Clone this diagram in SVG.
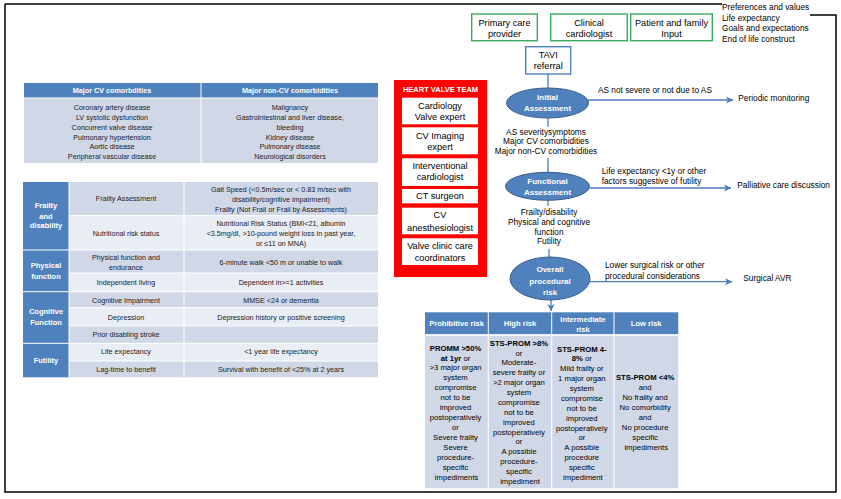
<svg xmlns="http://www.w3.org/2000/svg" width="841" height="499" viewBox="0 0 841 499">
<defs>
<marker id="arr" markerWidth="8" markerHeight="8" refX="7" refY="4" orient="auto" markerUnits="userSpaceOnUse">
<path d="M0,0.5 L7.5,4 L0,7.5 L2,4 Z" fill="#4A7EBB"/>
</marker>
<style>
text { font-family: "Liberation Sans", Arial, sans-serif; }
.t7 { font-size: 7.2px; text-anchor: middle; fill: #1a1a1a; }
.t7b { font-size: 7.2px; text-anchor: middle; font-weight: bold; fill: #fff; }
.cat { font-size: 7.5px; text-anchor: middle; font-weight: bold; fill: #fff; }
.hdr { fill: #4F81BD; }
.dk { fill: #D0D8E8; }
.lt { fill: #E9EDF4; }
.wl { stroke: #fff; stroke-width: 1; }
.team { font-size: 9.2px; text-anchor: middle; fill: #000; }
.wbox { fill: #fff; }
.gbox { fill: #fff; stroke: #3AAA5C; stroke-width: 1.4; }
.bbox { fill: #fff; stroke: #4F81BD; stroke-width: 1.4; }
.f9 { font-size: 9.2px; text-anchor: middle; fill: #000; }
.f8 { font-size: 8.3px; fill: #000; }
.f8c { font-size: 8.3px; fill: #000; text-anchor: middle; }
.ell { fill: #4F81BD; stroke: #385D8A; stroke-width: 1; }
.et { font-size: 8px; font-weight: bold; fill: #fff; text-anchor: middle; }
.con { stroke: #4A7EBB; stroke-width: 1.3; fill: none; }
.rt { font-size: 7.7px; text-anchor: middle; fill: #000; }
.rh { font-size: 7.6px; text-anchor: middle; font-weight: bold; fill: #fff; }
.b { font-weight: bold; }
</style>
</defs>
<rect width="841" height="499" fill="#fff"/>
<!-- outer frame -->
<path d="M5,4 H722 M810,15 H836 V492 H5 V4" fill="none" stroke="#000" stroke-width="1.5"/>

<!-- comorbidities table -->
<g id="comorbidities-table">
<rect x="24" y="83" width="354" height="15" class="hdr"/>
<rect x="24" y="98" width="354" height="65" class="dk"/>
<line x1="201" y1="83" x2="201" y2="163" class="wl"/>
<line x1="24" y1="98" x2="378" y2="98" class="wl"/>
<text x="112" y="93.3" class="t7b">Major CV comorbdities</text>
<text x="290" y="93.3" class="t7b">Major non-CV comorbidities</text>
<text class="t7" x="112"><tspan x="112" y="110.2">Coronary artery disease</tspan><tspan x="112" y="120">LV systolic dysfunction</tspan><tspan x="112" y="129.8">Concurrent valve disease</tspan><tspan x="112" y="139.6">Pulmonary hypertension</tspan><tspan x="112" y="149.4">Aortic disease</tspan><tspan x="112" y="159.2">Peripheral vascular disease</tspan></text>
<text class="t7" x="290"><tspan x="290" y="110.2">Malignancy</tspan><tspan x="290" y="120">Gastrointestinal and liver disease,</tspan><tspan x="290" y="129.8">bleeding</tspan><tspan x="290" y="139.6">Kidney disease</tspan><tspan x="290" y="149.4">Pulmonary disease</tspan><tspan x="290" y="159.2">Neurological disorders</tspan></text>
</g>

<!-- frailty table -->
<g id="frailty-table">
<rect x="69" y="182" width="309" height="33.7" class="dk"/>
<rect x="69" y="215.7" width="309" height="34.3" class="lt"/>
<rect x="69" y="250" width="309" height="23" class="dk"/>
<rect x="69" y="273" width="309" height="18.7" class="lt"/>
<rect x="69" y="291.7" width="309" height="16" class="dk"/>
<rect x="69" y="307.7" width="309" height="18.3" class="lt"/>
<rect x="69" y="326" width="309" height="17.3" class="dk"/>
<rect x="69" y="343.3" width="309" height="17.7" class="lt"/>
<rect x="69" y="361" width="309" height="16.3" class="dk"/>
<rect x="23" y="182" width="46" height="195.3" class="hdr"/>
<g class="wl">
<line x1="69" y1="182" x2="69" y2="377.3"/>
<line x1="184" y1="182" x2="184" y2="377.3"/>
<line x1="69" y1="215.7" x2="378" y2="215.7"/>
<line x1="23" y1="250" x2="378" y2="250"/>
<line x1="69" y1="273" x2="378" y2="273"/>
<line x1="23" y1="291.7" x2="378" y2="291.7"/>
<line x1="69" y1="307.7" x2="378" y2="307.7"/>
<line x1="69" y1="326" x2="378" y2="326"/>
<line x1="23" y1="343.3" x2="378" y2="343.3"/>
<line x1="69" y1="361" x2="378" y2="361"/>
</g>
<text class="cat"><tspan x="46" y="208">Frailty</tspan><tspan x="46" y="219">and</tspan><tspan x="46" y="228.3">disability</tspan></text>
<text class="cat"><tspan x="46" y="268.3">Physical</tspan><tspan x="46" y="279.3">function</tspan></text>
<text class="cat"><tspan x="46" y="314.3">Cognitive</tspan><tspan x="46" y="324.9">Function</tspan></text>
<text class="cat" x="46" y="362.6">Futility</text>
<text class="t7" x="126" y="201.3">Frailty Assessment</text>
<text class="t7"><tspan x="281" y="191.9">Gait Speed (&lt;0.5m/sec or &lt; 0.83 m/sec with</tspan><tspan x="281" y="201.6">disability/cognitive impairment)</tspan><tspan x="281" y="211.6">Frailty (Not Frail or Frail by Assessments)</tspan></text>
<text class="t7" x="126" y="235.9">Nutritional risk status</text>
<text class="t7"><tspan x="281" y="225.9">Nutritional Risk Status (BMI&lt;21, albumin</tspan><tspan x="281" y="235.9">&lt;3.5mg/dl, &gt;10-pound weight loss in past year,</tspan><tspan x="281" y="245.9">or ≤11 on MNA)</tspan></text>
<text class="t7"><tspan x="126" y="259.9">Physical function and</tspan><tspan x="126" y="269.9">endurance</tspan></text>
<text class="t7" x="281" y="264.9">6-minute walk &lt;50 m or unable to walk</text>
<text class="t7" x="126" y="284.9">Independent living</text>
<text class="t7" x="281" y="284.9">Dependent in&gt;=1 activities</text>
<text class="t7" x="126" y="302.6">Cognitive Impairment</text>
<text class="t7" x="281" y="302.6">MMSE &lt;24 or dementia</text>
<text class="t7" x="126" y="319.9">Depression</text>
<text class="t7" x="281" y="319.9">Depression history or positive screening</text>
<text class="t7" x="126" y="336.9">Prior disabling stroke</text>
<text class="t7" x="126" y="354.3">Life expectancy</text>
<text class="t7" x="281" y="354.3">&lt;1 year life expectancy</text>
<text class="t7" x="126" y="371.6">Lag-time to benefit</text>
<text class="t7" x="281" y="371.6">Survival with benefit of &lt;25% at 2 years</text>
</g>

<!-- heart valve team -->
<g id="heart-valve-team">
<rect x="394" y="80" width="93" height="197" fill="#FF0000"/>
<text x="440.5" y="91.8" font-size="7.5" font-weight="bold" fill="#fff" text-anchor="middle">HEART VALVE TEAM</text>
<rect x="402" y="97.7" width="76" height="26.6" class="wbox"/>
<rect x="402" y="127.3" width="76" height="27" class="wbox"/>
<rect x="402" y="158.3" width="76" height="27.7" class="wbox"/>
<rect x="402" y="189" width="76" height="14.3" class="wbox"/>
<rect x="402" y="207.7" width="76" height="26.6" class="wbox"/>
<rect x="402" y="238.3" width="76" height="26.7" class="wbox"/>
<text class="team"><tspan x="440" y="109">Cardiology</tspan><tspan x="440" y="120">Valve expert</tspan></text>
<text class="team"><tspan x="440" y="139.3">CV Imaging</tspan><tspan x="440" y="150">expert</tspan></text>
<text class="team"><tspan x="440" y="169">Interventional</tspan><tspan x="440" y="180">cardiologist</tspan></text>
<text class="team" x="440" y="199.3">CT surgeon</text>
<text class="team"><tspan x="440" y="218.3">CV</tspan><tspan x="440" y="230.6">anesthesiologist</tspan></text>
<text class="team"><tspan x="440" y="249.3">Valve clinic care</tspan><tspan x="440" y="261">coordinators</tspan></text>
</g>

<!-- top inputs -->
<g id="primary-care">
<rect x="471.7" y="14" width="65.6" height="26.7" class="gbox"/>
<text class="f9"><tspan x="504.5" y="25.5">Primary care</tspan><tspan x="504.5" y="36.5">provider</tspan></text>
</g>
<g id="clinical-cardiologist">
<rect x="550.7" y="14" width="76.6" height="26.7" class="gbox"/>
<text class="f9"><tspan x="589" y="25.5">Clinical</tspan><tspan x="589" y="36.5">cardiologist</tspan></text>
</g>
<g id="patient-family">
<rect x="630.7" y="14" width="81.6" height="26.7" class="gbox"/>
<text class="f9"><tspan x="671.5" y="25.5">Patient and family</tspan><tspan x="671.5" y="36.5">Input</tspan></text>
</g>
<g id="preferences">
<text class="f8"><tspan x="722" y="10.4">Preferences and values</tspan><tspan x="722" y="20.8">Life expectancy</tspan><tspan x="722" y="31.2">Goals and expectations</tspan><tspan x="722" y="41.6">End of life construct</tspan></text>
</g>
<g id="tavi-referral">
<rect x="525.7" y="46.7" width="45" height="27.3" class="bbox"/>
<text class="f9"><tspan x="548.2" y="57.5">TAVI</tspan><tspan x="548.2" y="69.2">referral</tspan></text>
</g>

<!-- connectors -->
<g id="connectors" class="con">
<line x1="548" y1="74" x2="548" y2="88"/>
<line x1="548" y1="118" x2="548" y2="126.7"/>
<line x1="548" y1="158" x2="548" y2="172.5"/>
<line x1="548" y1="200" x2="548" y2="206"/>
<line x1="549" y1="249" x2="549" y2="257.5"/>
<line x1="551" y1="300" x2="551" y2="311" marker-end="url(#arr)"/>
<line x1="588" y1="100" x2="733" y2="100" marker-end="url(#arr)"/>
<line x1="589.5" y1="188" x2="731" y2="188" marker-end="url(#arr)"/>
<line x1="590" y1="281.7" x2="732" y2="281.7" marker-end="url(#arr)"/>
</g>

<g id="initial-assessment">
<ellipse cx="547.5" cy="103" rx="41" ry="15" class="ell"/>
<text class="et"><tspan x="547.5" y="99.5">Initial</tspan><tspan x="547.5" y="111">Assessment</tspan></text>
</g>
<g id="initial-criteria">
<text class="f8c"><tspan x="546" y="134.6">AS severitysymptoms</tspan><tspan x="546" y="144.2">Major CV comorbidities</tspan><tspan x="546" y="154">Major non-CV comorbidities</tspan></text>
</g>
<g id="periodic-monitoring">
<text class="f8" x="598" y="93">AS not severe or not due to AS</text>
<text class="f8" x="738.3" y="100.7">Periodic monitoring</text>
</g>
<g id="functional-assessment">
<ellipse cx="547.5" cy="186.3" rx="42" ry="14" class="ell"/>
<text class="et"><tspan x="547.5" y="183.5">Functional</tspan><tspan x="547.5" y="195">Assessment</tspan></text>
</g>
<g id="functional-criteria">
<text class="f8c"><tspan x="549" y="214.6">Frailty/disability</tspan><tspan x="549" y="224.6">Physical and cognitive</tspan><tspan x="549" y="234.6">function</tspan><tspan x="549" y="244">Futility</tspan></text>
</g>
<g id="palliative-care">
<text class="f8"><tspan x="601.7" y="174">Life expectancy &lt;1y or other</tspan><tspan x="601.7" y="184">factors suggestive of futility</tspan></text>
<text class="f8" x="737.3" y="188">Palliative care discussion</text>
</g>
<g id="overall-risk">
<ellipse cx="550" cy="278.5" rx="40" ry="21.5" class="ell"/>
<text class="et"><tspan x="550" y="271.8">Overall</tspan><tspan x="550" y="283.5">procedural</tspan><tspan x="550" y="294.5">risk</tspan></text>
</g>
<g id="surgical-avr">
<text class="f8"><tspan x="605" y="268">Lower surgical risk or other</tspan><tspan x="605" y="278.7">procedural considerations</tspan></text>
<text class="f8" x="743.3" y="281.3">Surgical AVR</text>
</g>

<!-- risk table -->
<g id="risk-table">
<rect x="425" y="312.3" width="253.3" height="22" class="hdr"/>
<rect x="425" y="335.5" width="253.3" height="152.8" class="dk"/>
<g class="wl">
<line x1="425" y1="335" x2="678.3" y2="335"/>
<line x1="488.3" y1="312.3" x2="488.3" y2="488.3"/>
<line x1="551.7" y1="312.3" x2="551.7" y2="488.3"/>
<line x1="614" y1="312.3" x2="614" y2="488.3"/>
</g>
<text class="rh" x="456.6" y="326">Prohibitive risk</text>
<text class="rh" x="520" y="326">High risk</text>
<text class="rh"><tspan x="582.9" y="321.7">Intermediate</tspan><tspan x="582.9" y="331.7">risk</tspan></text>
<text class="rh" x="646.2" y="326">Low risk</text>
<text class="rt">
<tspan x="456.6" y="351" class="b">PROMM &gt;50%</tspan>
<tspan x="456.6" y="361"><tspan class="b">at 1yr</tspan> or</tspan>
<tspan x="456.6" y="370.4">&gt;3 major organ</tspan>
<tspan x="456.6" y="380.4">system</tspan>
<tspan x="456.6" y="390.4">compromise</tspan>
<tspan x="456.6" y="400.4">not to be</tspan>
<tspan x="456.6" y="410.4">improved</tspan>
<tspan x="456.6" y="420.4">postoperatively</tspan>
<tspan x="456.6" y="430.4">or</tspan>
<tspan x="456.6" y="440.4">Severe frailty</tspan>
<tspan x="456.6" y="450.4">Severe</tspan>
<tspan x="456.6" y="460.4">procedure-</tspan>
<tspan x="456.6" y="470.4">specific</tspan>
<tspan x="456.6" y="480.4">impediments</tspan>
</text>
<text class="rt">
<tspan x="520" y="346" class="b">STS-PROM &gt;8%</tspan>
<tspan x="520" y="356">or</tspan>
<tspan x="520" y="365.4">Moderate-</tspan>
<tspan x="520" y="375.4">severe frailty or</tspan>
<tspan x="520" y="385.4">&gt;2 major organ</tspan>
<tspan x="520" y="395.4">system</tspan>
<tspan x="520" y="405.2">compromise</tspan>
<tspan x="520" y="414.8">not to be</tspan>
<tspan x="520" y="424.7">improved</tspan>
<tspan x="520" y="434.5">postoperatively</tspan>
<tspan x="520" y="444.4">or</tspan>
<tspan x="520" y="454.4">A possible</tspan>
<tspan x="520" y="464.4">procedure-</tspan>
<tspan x="520" y="474.4">specific</tspan>
<tspan x="520" y="484.4">impediment</tspan>
</text>
<text class="rt">
<tspan x="582.9" y="351.7" class="b">STS-PROM 4-</tspan>
<tspan x="582.9" y="361"><tspan class="b">8%</tspan> or</tspan>
<tspan x="582.9" y="371">Mild frailty or</tspan>
<tspan x="582.9" y="381">1 major organ</tspan>
<tspan x="582.9" y="391">system</tspan>
<tspan x="582.9" y="400.7">compromise</tspan>
<tspan x="582.9" y="410.7">not to be</tspan>
<tspan x="582.9" y="420.7">improved</tspan>
<tspan x="582.9" y="430.7">postoperatively</tspan>
<tspan x="582.9" y="440.4">or</tspan>
<tspan x="582.9" y="450.4">A possible</tspan>
<tspan x="582.9" y="460.4">procedure</tspan>
<tspan x="582.9" y="470.4">specific</tspan>
<tspan x="582.9" y="480.4">impediment</tspan>
</text>
<text class="rt">
<tspan x="646.2" y="380.4" class="b">STS-PROM &lt;4%</tspan>
<tspan x="646.2" y="390.4">and</tspan>
<tspan x="646.2" y="400.4">No frailty and</tspan>
<tspan x="646.2" y="410.4">No comorbidity</tspan>
<tspan x="646.2" y="420.4">and</tspan>
<tspan x="646.2" y="430.4">No procedure</tspan>
<tspan x="646.2" y="440.4">specific</tspan>
<tspan x="646.2" y="450.4">impediments</tspan>
</text>
</g>
</svg>
